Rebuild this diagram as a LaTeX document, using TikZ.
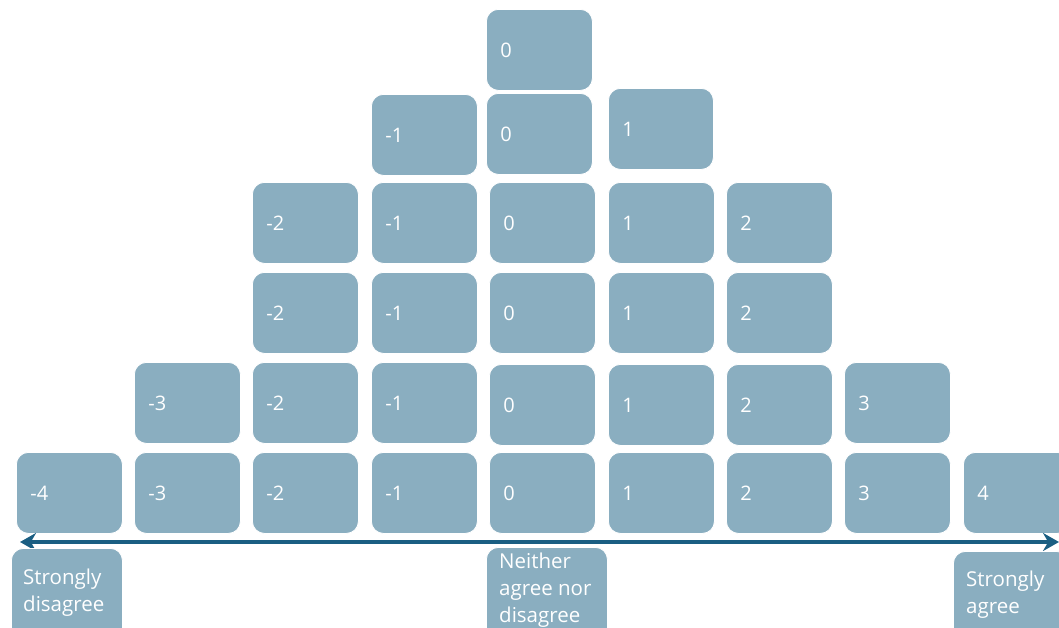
\documentclass[tikz,border=0pt]{standalone}
\usepackage{fontspec}
\setmainfont{Open Sans}
\usetikzlibrary{arrows.meta}
\definecolor{boxfill}{HTML}{8AAEC0}
\definecolor{arrowcol}{HTML}{1A5E82}
\tikzset{
  cell/.style={rectangle, rounded corners=12pt, fill=boxfill, draw=white, line width=0.8pt,
    anchor=north west, minimum width=106pt, minimum height=81pt, inner xsep=14pt, inner ysep=0pt,
    text width=78pt, align=left, text=white, font=\fontsize{20}{27}\selectfont},
  lblbox/.style={rectangle, rounded corners=12pt, fill=boxfill, draw=white, line width=0.8pt,
    anchor=north west, minimum height=95pt, inner sep=0pt},
  lbltext/.style={anchor=north west, inner sep=0pt, align=left, text=white,
    font=\fontsize{20.5}{27}\selectfont},
  scale arrow/.style={arrowcol, line width=4.5pt,
    {Stealth[length=16pt,width=18pt]}-{Stealth[length=16pt,width=18pt]}}
}
\begin{document}
\begin{tikzpicture}[x=1pt,y=-1pt]
\useasboundingbox (0,0) rectangle (1059,627);
\clip (0,0) rectangle (1059,627);
% row 1
\node[cell] (r1c0) at (486,9) {0};
% row 2
\node[cell] (r2cm1) at (371,94) {-1};
\node[cell] (r2c0) at (486,93) {0};
\node[cell, minimum width=105pt, text width=77pt] (r2c1) at (608,88) {1};
% row 3
\node[cell] (r3cm2) at (252,182) {-2};
\node[cell] (r3cm1) at (371,182) {-1};
\node[cell] (r3c0) at (489,182) {0};
\node[cell] (r3c1) at (608,182) {1};
\node[cell] (r3c2) at (726,182) {2};
% row 4
\node[cell] (r4cm2) at (252,272) {-2};
\node[cell] (r4cm1) at (371,272) {-1};
\node[cell] (r4c0) at (489,272) {0};
\node[cell] (r4c1) at (608,272) {1};
\node[cell] (r4c2) at (726,272) {2};
% row 5
\node[cell] (r5cm3) at (134,362) {-3};
\node[cell] (r5cm2) at (252,362) {-2};
\node[cell] (r5cm1) at (371,362) {-1};
\node[cell] (r5c0) at (489,364) {0};
\node[cell] (r5c1) at (608,364) {1};
\node[cell] (r5c2) at (726,364) {2};
\node[cell] (r5c3) at (844,362) {3};
% row 6
\node[cell] (r6cm4) at (16,452) {-4};
\node[cell] (r6cm3) at (134,452) {-3};
\node[cell] (r6cm2) at (252,452) {-2};
\node[cell] (r6cm1) at (371,452) {-1};
\node[cell] (r6c0) at (489,452) {0};
\node[cell] (r6c1) at (608,452) {1};
\node[cell] (r6c2) at (726,452) {2};
\node[cell] (r6c3) at (844,452) {3};
\node[cell] (r6c4) at (963,452) {4};
% scale arrow
\coordinate (arrL) at (20,542);
\coordinate (arrR) at (1059,542);
\draw[scale arrow] (arrL) -- (arrR);
% label boxes
\node[lblbox, minimum width=111pt] (lblL) at (11,548) {};
\node[lbltext] (txtL) at (23,569) {Strongly\\disagree};
\node[lblbox, minimum width=121pt] (lblM) at (486,547) {};
\node[lbltext] (txtM) at (499,553) {Neither\\agree nor\\disagree};
\node[lblbox, minimum width=115pt] (lblR) at (953,551) {};
\node[lbltext] (txtR) at (966,571) {Strongly\\agree};
\end{tikzpicture}
\end{document}
